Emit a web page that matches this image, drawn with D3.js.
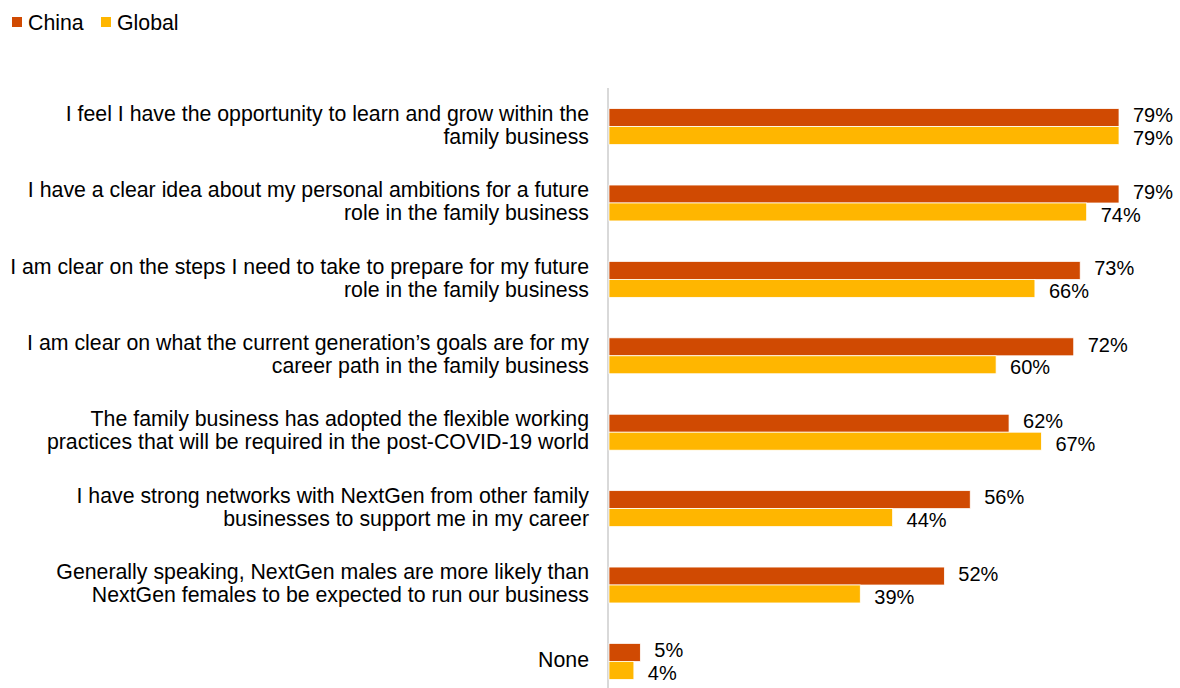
<!DOCTYPE html>
<html>
<head>
<meta charset="utf-8">
<script src="https://cdn.jsdelivr.net/npm/d3@7/dist/d3.min.js"></script>
<style>
  html, body { margin: 0; padding: 0; background: #fff; }
  svg { display: block; font-family: "Liberation Sans", Arial, sans-serif; }
</style>
</head>
<body>
<svg id="chart" width="1180" height="688"></svg>
<script>
// Survey statements (each label split into display lines)
const categories = [
  ["I feel I have the opportunity to learn and grow within the", "family business"],
  ["I have a clear idea about my personal ambitions for a future", "role in the family business"],
  ["I am clear on the steps I need to take to prepare for my future", "role in the family business"],
  ["I am clear on what the current generation\u2019s goals are for my", "career path in the family business"],
  ["The family business has adopted the flexible working", "practices that will be required in the post-COVID-19 world"],
  ["I have strong networks with NextGen from other family", "businesses to support me in my career"],
  ["Generally speaking, NextGen males are more likely than", "NextGen females to be expected to run our business"],
  ["None"]
];
const seriesNames = ["China", "Global"];
const chinaValues = [79, 79, 73, 72, 62, 56, 52, 5];
const globalValues = [79, 74, 66, 60, 67, 44, 39, 4];
const seriesColors = ["#D04A02", "#FFB600"];

const fontSize = 21.3;
const valueFontSize = 20;
const svg = d3.select("#chart");

const axisX = 608;
const x = d3.scaleLinear().domain([0, 79]).range([axisX, 1119]);

const y = d3.scaleBand()
  .domain(d3.range(categories.length))
  .range([88, 700])
  .paddingInner(0.53)
  .paddingOuter(0.27);

const sub = d3.scaleBand().domain(seriesNames).range([0, y.bandwidth()]);

const data = categories.map((c, i) => ({
  label: c,
  values: [chinaValues[i], globalValues[i]]
}));

// Category axis line
svg.append("line")
  .attr("x1", axisX).attr("x2", axisX)
  .attr("y1", 88).attr("y2", 688)
  .attr("stroke", "#d9d9d9").attr("stroke-width", 2);

const groups = svg.selectAll("g.cat")
  .data(data).join("g")
  .attr("class", "cat")
  .attr("transform", (d, i) => `translate(0,${y(i)})`);

// Bars
groups.selectAll("rect")
  .data(d => d.values.map((v, j) => ({ v, s: seriesNames[j], c: seriesColors[j] })))
  .join("rect")
  .attr("x", x(0) + 1)
  .attr("y", d => sub(d.s))
  .attr("width", d => x(d.v) - x(0) - 1)
  .attr("height", sub.bandwidth())
  .attr("fill", d => d.c)
  .attr("stroke", "#fff")
  .attr("stroke-width", 0.75);

// Value labels (nudged apart so the paired labels do not collide)
groups.selectAll("text.val")
  .data(d => d.values.map((v, j) => ({ v, s: seriesNames[j], j })))
  .join("text")
  .attr("class", "val")
  .attr("x", d => x(d.v) + 14)
  .attr("y", d => sub(d.s) + sub.bandwidth() / 2 + (d.j === 0 ? -2.5 : 2.5))
  .attr("dy", "0.36em")
  .attr("font-size", valueFontSize)
  .attr("fill", "#000")
  .text(d => d.v + "%");

// Category labels, right aligned against the axis
const lineH = 23;
groups.append("text")
  .attr("text-anchor", "end")
  .attr("font-size", fontSize)
  .attr("fill", "#000")
  .each(function(d) {
    const t = d3.select(this);
    const n = d.label.length;
    d.label.forEach((line, k) => {
      t.append("tspan")
        .attr("x", 589)
        .attr("y", y.bandwidth() / 2 - 2 + (k - (n - 1) / 2) * lineH)
        .attr("dy", "0.36em")
        .text(line);
    });
  });

// Legend
const legend = svg.append("g").attr("transform", "translate(12,17)");
const legendX = [0, 89];
seriesNames.forEach((name, i) => {
  const g = legend.append("g").attr("transform", `translate(${legendX[i]},0)`);
  g.append("rect").attr("width", 10).attr("height", 10).attr("fill", seriesColors[i]);
  g.append("text").attr("x", 16).attr("y", 5).attr("dy", "0.36em")
    .attr("font-size", fontSize).attr("fill", "#000").text(name);
});
</script>
</body>
</html>
